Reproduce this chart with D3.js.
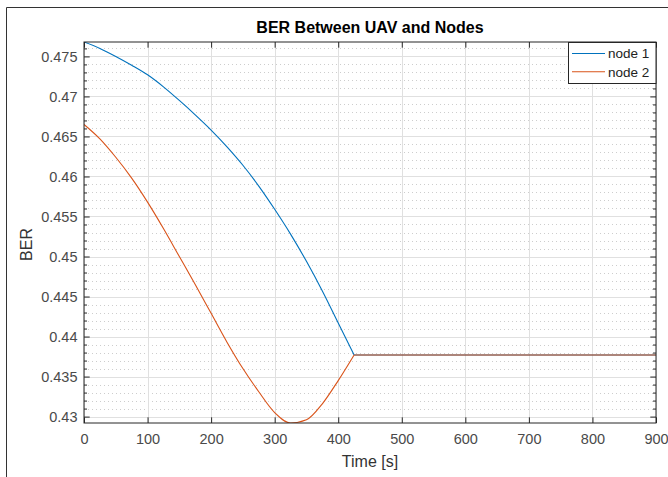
<!DOCTYPE html>
<html>
<head>
<meta charset="utf-8">
<script src="https://cdn.jsdelivr.net/npm/d3@7"></script>
<style>
  html, body { margin: 0; padding: 0; background: #fff; }
  svg { display: block; font-family: "Liberation Sans", Arial, sans-serif; }
</style>
</head>
<body>
<div id="chart"></div>
<script>
// values
const time = [0, 25, 50, 75, 100, 125, 150, 175, 200, 225, 250, 275, 300, 325, 350, 375, 400, 425, 900];
const node1 = [0.4768, 0.4760, 0.4750, 0.4739, 0.4727, 0.4712, 0.4695, 0.4677, 0.4658, 0.4637,
               0.4614, 0.4588, 0.4559, 0.4528, 0.4494, 0.4457, 0.4417, 0.4377, 0.4377];
const node2 = [0.4665, 0.4647, 0.4624, 0.4598, 0.4568, 0.4535, 0.4500, 0.4465, 0.4429, 0.4393,
               0.4360, 0.4331, 0.4305, 0.4292, 0.4296, 0.4316, 0.4345, 0.4377, 0.4377];
const seriesNames = ["node 1", "node 2"];
const xTicks = [0, 100, 200, 300, 400, 500, 600, 700, 800, 900];
const yTicks = [0.43, 0.435, 0.44, 0.445, 0.45, 0.455, 0.46, 0.465, 0.47, 0.475];
const yMinorStep = 0.001;
const kneeIndex = 17; // after this point both curves stay flat

const colors = ["#0072BD", "#D95319"];

const width = 668, height = 477;
const marginLeft = 84, marginRight = 12, marginTop = 42, marginBottom = 54;
const axisColor = "#262626";

const svg = d3.select("#chart").append("svg")
    .attr("width", width)
    .attr("height", height)
    .attr("viewBox", [0, 0, width, height]);

// figure frame (only top / left visible in the crop)
svg.append("path")
    .attr("d", `M6.5,${height}V7.5H${width}`)
    .attr("fill", "none")
    .attr("stroke", "#333")
    .attr("stroke-width", 1);

const x = d3.scaleLinear()
    .domain([0, 900])
    .range([marginLeft, width - marginRight]);

const y = d3.scaleLinear()
    .domain(d3.extent(node1.concat(node2)))
    .range([height - marginBottom, marginTop]);

const x0 = x.range()[0], x1 = x.range()[1];
const y0 = y.range()[0], y1 = y.range()[1];

// minor y grid (dotted)
const minorTicks = d3.range(Math.ceil(y.domain()[0] / yMinorStep), Math.floor(y.domain()[1] / yMinorStep) + 1)
    .map(i => +(i * yMinorStep).toFixed(4))
    .filter(v => !yTicks.some(t => Math.abs(t - v) < 1e-6));

svg.append("g")
    .attr("stroke", "#cdcdcd")
    .attr("stroke-dasharray", "1,3")
  .selectAll("line")
  .data(minorTicks)
  .join("line")
    .attr("x1", x0).attr("x2", x1)
    .attr("y1", d => Math.round(y(d)) + 0.5)
    .attr("y2", d => Math.round(y(d)) + 0.5);

// major grid
svg.append("g")
    .attr("stroke", "#e0e0e0")
  .selectAll("line")
  .data(yTicks)
  .join("line")
    .attr("x1", x0).attr("x2", x1)
    .attr("y1", d => Math.round(y(d)) + 0.5)
    .attr("y2", d => Math.round(y(d)) + 0.5);

svg.append("g")
    .attr("stroke", "#e0e0e0")
  .selectAll("line")
  .data(xTicks)
  .join("line")
    .attr("y1", y0).attr("y2", y1)
    .attr("x1", d => Math.round(x(d)) + 0.5)
    .attr("x2", d => Math.round(x(d)) + 0.5);

// lines
svg.append("clipPath").attr("id", "clip")
  .append("rect")
    .attr("x", x0).attr("y", y1)
    .attr("width", x1 - x0).attr("height", y0 - y1);

const curved = d3.line()
    .curve(d3.curveMonotoneX)
    .x(d => x(d[0]))
    .y(d => y(d[1]));

const straight = d3.line()
    .x(d => x(d[0]))
    .y(d => y(d[1]));

const plot = svg.append("g").attr("clip-path", "url(#clip)");
[node1, node2].forEach((s, i) => {
  const pts = s.map((v, j) => [time[j], v]);
  const g = plot.append("g")
      .attr("fill", "none")
      .attr("stroke", colors[i])
      .attr("stroke-width", 1.1)
      .attr("stroke-linejoin", "round");
  g.append("path").attr("d", curved(pts.slice(0, kneeIndex + 1)));
  g.append("path").attr("d", straight(pts.slice(kneeIndex)));
});

// axes, ticks pointing inward on all four sides
const tickLen = 5.7, minorLen = 3;
const fmt = d => String(+d.toFixed(3));

svg.append("g")
    .attr("transform", `translate(0,${y0})`)
    .call(d3.axisBottom(x).tickValues(xTicks).tickSize(-tickLen).tickPadding(11).tickFormat(d3.format("d")))
    .call(g => g.select(".domain").remove());

svg.append("g")
    .attr("transform", `translate(0,${y1})`)
    .call(d3.axisTop(x).tickValues(xTicks).tickSize(-tickLen).tickFormat(""))
    .call(g => g.select(".domain").remove());

svg.append("g")
    .attr("transform", `translate(${x0},0)`)
    .call(d3.axisLeft(y).tickValues(yTicks).tickSize(-tickLen).tickPadding(6.5).tickFormat(fmt))
    .call(g => g.select(".domain").remove());

svg.append("g")
    .attr("transform", `translate(${x0},0)`)
    .call(d3.axisLeft(y).tickValues(minorTicks).tickSize(-minorLen).tickFormat(""))
    .call(g => g.select(".domain").remove());

svg.append("g")
    .attr("transform", `translate(${x1},0)`)
    .call(d3.axisRight(y).tickValues(yTicks).tickSize(-tickLen).tickFormat(""))
    .call(g => g.select(".domain").remove());

svg.append("g")
    .attr("transform", `translate(${x1},0)`)
    .call(d3.axisRight(y).tickValues(minorTicks).tickSize(-minorLen).tickFormat(""))
    .call(g => g.select(".domain").remove());

svg.selectAll(".tick line").attr("stroke", axisColor);
svg.selectAll(".tick text")
    .attr("fill", "#4a4a4a")
    .attr("font-size", "14.5px")
    .attr("font-family", "'Liberation Sans', Arial, sans-serif");

// box
svg.append("rect")
    .attr("x", x0).attr("y", y1)
    .attr("width", x1 - x0).attr("height", y0 - y1)
    .attr("fill", "none")
    .attr("stroke", axisColor)
    .attr("stroke-width", 1);

// title and labels
svg.append("text")
    .attr("x", (x0 + x1) / 2)
    .attr("y", 33)
    .attr("text-anchor", "middle")
    .attr("font-weight", "bold")
    .attr("font-size", "16px")
    .attr("fill", "#000")
    .text("BER Between UAV and Nodes");

svg.append("text")
    .attr("x", (x0 + x1) / 2)
    .attr("y", 467)
    .attr("text-anchor", "middle")
    .attr("font-size", "16px")
    .attr("fill", "#333")
    .text("Time [s]");

svg.append("text")
    .attr("transform", `translate(32,${(y0 + y1) / 2 + 12}) rotate(-90)`)
    .attr("text-anchor", "middle")
    .attr("font-size", "16px")
    .attr("fill", "#333")
    .text("BER");

// legend
const lg = svg.append("g");
lg.append("rect")
    .attr("x", 568.5).attr("y", 42.5)
    .attr("width", x1 - 568.5).attr("height", 41)
    .attr("fill", "#fff")
    .attr("stroke", axisColor);

seriesNames.forEach((name, i) => {
  const ly = 53.5 + i * 18.3;
  lg.append("line")
      .attr("x1", 572).attr("x2", 605)
      .attr("y1", ly).attr("y2", ly)
      .attr("stroke", colors[i])
      .attr("stroke-width", 1.1);
  lg.append("text")
      .attr("x", 608).attr("y", ly)
      .attr("dy", "0.35em")
      .attr("font-size", "13.5px")
      .attr("fill", "#222")
      .text(name);
});
</script>
</body>
</html>
